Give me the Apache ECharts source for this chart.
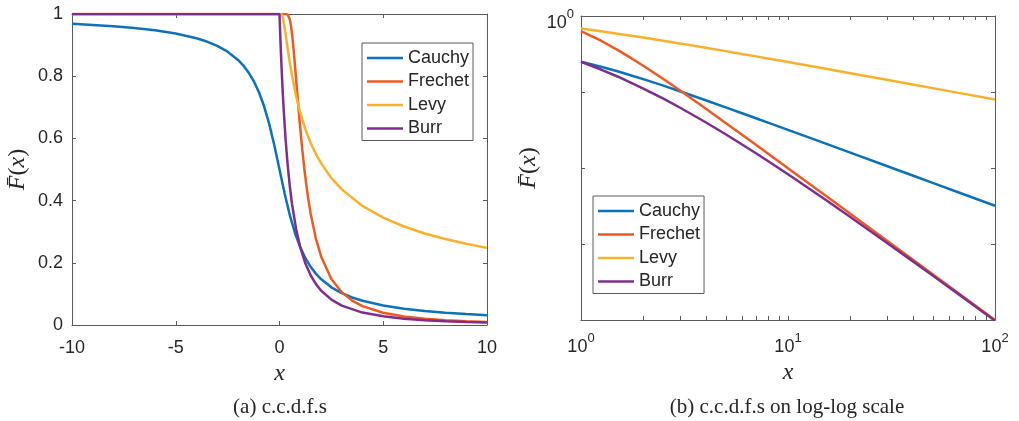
<!DOCTYPE html>
<html>
<head>
<meta charset="utf-8">
<script src="https://cdn.jsdelivr.net/npm/echarts@6/dist/echarts.min.js"></script>
<style>
html,body{margin:0;padding:0;background:#fff;}
#c{width:1019px;height:421px;}
</style>
</head>
<body>
<div id="c"></div>
<script>
// ---------- data: (a) linear scale ----------
const seriesNames = ['Cauchy', 'Frechet', 'Levy', 'Burr'];
const cauchyX = [-10,-9,-8,-7,-6,-5,-4,-3.5,-3,-2.5,-2,-1.75,-1.5,-1.25,-1,-0.75,-0.5,-0.25,0,0.25,0.5,0.75,1,1.25,1.5,1.75,2,2.5,3,3.5,4,5,6,7,8,9,10];
const cauchyY = [0.9683,0.9648,0.9604,0.9548,0.9474,0.9372,0.9220,0.9114,0.8976,0.8789,0.8524,0.8348,0.8128,0.7852,0.75,0.7048,0.6476,0.5780,0.5,0.4220,0.3524,0.2952,0.25,0.2148,0.1872,0.1652,0.1476,0.1211,0.1024,0.0886,0.0780,0.0628,0.0526,0.0452,0.0396,0.0352,0.0317];
const frechetX = [-10,0,0.3,0.35,0.4,0.45,0.5,0.55,0.6,0.65,0.7,0.75,0.8,0.85,0.9,0.95,1,1.1,1.2,1.3,1.4,1.5,1.75,2,2.5,3,3.5,4,5,6,7,8,9,10];
const frechetY = [1,1,1,0.9997,0.9981,0.9928,0.9817,0.9633,0.9378,0.9062,0.8701,0.8310,0.7904,0.7494,0.7090,0.6698,0.6321,0.5624,0.5006,0.4466,0.3996,0.3588,0.2786,0.2212,0.1479,0.1052,0.0784,0.0606,0.0392,0.0274,0.0202,0.0155,0.0123,0.00995];
const levyX = [-10,0,0.05,0.1,0.15,0.2,0.3,0.4,0.5,0.6,0.8,1,1.25,1.5,1.75,2,2.5,3,4,5,6,7,8,9,10];
const levyY = [1,1,1,0.9984,0.9901,0.9745,0.9320,0.8859,0.8427,0.8031,0.7363,0.6827,0.6287,0.5855,0.5500,0.5205,0.4729,0.4361,0.3829,0.3451,0.3168,0.2944,0.2763,0.2610,0.2480];
const burrX = [-10,0,0.02,0.05,0.1,0.15,0.2,0.3,0.4,0.5,0.6,0.8,1,1.25,1.5,1.75,2,2.5,3,4,5,6,7,8,9,10];
const burrY = [1,1,0.9612,0.9070,0.8264,0.7561,0.6944,0.5917,0.5102,0.4444,0.3906,0.3086,0.25,0.1975,0.16,0.1322,0.1111,0.0816,0.0625,0.04,0.0278,0.0204,0.0156,0.0123,0.0100,0.0083];

// ---------- data: (b) log-log scale ----------
const logX = [1,1.25,1.5,1.75,2,2.5,3,4,5,6,7,8,10,15,20,30,40,50,70,100];
const cauchyLog = [0.25,0.2148,0.1872,0.1652,0.1476,0.1211,0.1024,0.0780,0.0628,0.0526,0.0452,0.0396,0.0317,0.0212,0.0159,0.01061,0.00796,0.006365,0.004547,0.003183];
const frechetLog = [0.6321,0.4727,0.3588,0.2786,0.2212,0.1479,0.1052,0.0606,0.0392,0.0274,0.0202,0.0155,0.00995,0.004435,0.002497,0.0011105,0.000625,0.0004,0.000204,0.0001];
const levyLog = [0.6827,0.6287,0.5855,0.5500,0.5205,0.4729,0.4361,0.3829,0.3451,0.3168,0.2944,0.2763,0.2480,0.2037,0.1769,0.14487,0.12563,0.11246,0.09514,0.07966];
const burrLog = [0.25,0.1975,0.16,0.1322,0.1111,0.0816,0.0625,0.04,0.0278,0.0204,0.015625,0.01235,0.008264,0.003906,0.002268,0.0010406,0.000595,0.0003845,0.0001984,0.000098];
const logMinorTicks = [2,3,4,5,6,7,8,9,20,30,40,50,60,70,80,90];

// ---------- tick labels / texts ----------
const captionA = '(a) c.c.d.f.s';
const captionB = '(b) c.c.d.f.s on log-log scale';

const colors = ['#0B72BD', '#EE5A21', '#F7B12A', '#7E2F8E'];
const axisColor = '#5a5a5a';
const textColor = '#262626';
const sans = '"Liberation Sans", Arial, Helvetica, sans-serif';
const serif = '"Liberation Serif", "Times New Roman", serif';

function zip(xs, ys) { return xs.map((x, i) => [x, ys[i]]); }

const chart = echarts.init(document.getElementById('c'), null, {renderer: 'canvas'});

const tickBase = {show: true, inside: true, length: 4, lineStyle: {color: axisColor, width: 1}};
const lineBase = {show: true, onZero: false, lineStyle: {color: axisColor, width: 1}};
const yName = '{i|F\u0304}{n|(}{i|x}{n|)}';
const nameStyle = {
  fontFamily: serif, fontSize: 24, fontStyle: 'italic', color: textColor,
  rich: {
    i: {fontFamily: serif, fontSize: 24, fontStyle: 'italic', color: textColor},
    n: {fontFamily: serif, fontSize: 24, fontStyle: 'normal', color: textColor}
  }
};
const supRich = {
  b: {fontFamily: sans, fontSize: 18, color: textColor, verticalAlign: 'bottom'},
  s: {fontFamily: sans, fontSize: 13, color: textColor, verticalAlign: 'bottom', padding: [0, 0, 11, 0]}
};
function powLabel(v) {
  return '{b|10}{s|' + Math.round(Math.log10(v)) + '}';
}

const legendBase = {
  orient: 'vertical',
  data: seriesNames,
  icon: 'rect',
  itemWidth: 36, itemHeight: 2.5, itemGap: 5.5,
  padding: [6, 4, 3, 5],
  borderColor: axisColor, borderWidth: 1, backgroundColor: '#fff',
  textStyle: {fontFamily: sans, fontSize: 18, color: textColor},
  inactiveColor: '#ccc'
};

const linSets = [[cauchyX, cauchyY], [frechetX, frechetY], [levyX, levyY], [burrX, burrY]];
const logSets = [cauchyLog, frechetLog, levyLog, burrLog];

const series = [];
seriesNames.forEach((n, i) => {
  series.push({
    name: n, type: 'line', xAxisIndex: 0, yAxisIndex: 0,
    data: zip(linSets[i][0], linSets[i][1]),
    symbol: 'none', showSymbol: false, clip: true,
    lineStyle: {color: colors[i], width: 2.5}, itemStyle: {color: colors[i]},
    animation: false
  });
});
seriesNames.forEach((n, i) => {
  series.push({
    name: n, type: 'line', xAxisIndex: 2, yAxisIndex: 2,
    data: zip(logX, logSets[i]),
    symbol: 'none', showSymbol: false, clip: true,
    lineStyle: {color: colors[i], width: 2.5}, itemStyle: {color: colors[i]},
    animation: false
  });
});

const option = {
  backgroundColor: '#fff',
  animation: false,
  grid: [
    {left: 72, top: 14, width: 415, height: 311, containLabel: false},
    {left: 581, top: 16, width: 414, height: 304, containLabel: false}
  ],
  legend: [
    Object.assign({}, legendBase, {left: 362, top: 43}),
    Object.assign({}, legendBase, {left: 593, top: 196})
  ],
  xAxis: [
    {gridIndex: 0, type: 'value', position: 'bottom', min: -10, max: 10, interval: 5,
     axisLine: lineBase, axisTick: tickBase, splitLine: {show: false},
     axisLabel: {fontFamily: sans, fontSize: 18, color: textColor, margin: 14},
     name: 'x', nameLocation: 'middle', nameGap: 35, nameTextStyle: nameStyle},
    {gridIndex: 0, type: 'value', position: 'top', min: -10, max: 10, interval: 5,
     axisLine: lineBase, axisTick: tickBase, splitLine: {show: false}, axisLabel: {show: false}},
    {gridIndex: 1, type: 'log', logBase: 10, position: 'bottom', min: 1, max: 100,
     axisLine: lineBase, axisTick: tickBase, splitLine: {show: false}, minorTick: {show: false},
     axisLabel: {formatter: powLabel, rich: supRich, margin: 12},
     name: 'x', nameLocation: 'middle', nameGap: 38, nameTextStyle: nameStyle},
    {gridIndex: 1, type: 'log', logBase: 10, position: 'top', min: 1, max: 100,
     axisLine: lineBase, axisTick: tickBase, splitLine: {show: false}, axisLabel: {show: false}}
  ],
  yAxis: [
    {gridIndex: 0, type: 'value', position: 'left', min: 0, max: 1, interval: 0.2,
     axisLine: lineBase, axisTick: tickBase, splitLine: {show: false},
     axisLabel: {fontFamily: sans, fontSize: 18, color: textColor, margin: 9},
     name: yName, nameLocation: 'middle', nameGap: 42, nameTextStyle: nameStyle},
    {gridIndex: 0, type: 'value', position: 'right', min: 0, max: 1, interval: 0.2,
     axisLine: lineBase, axisTick: tickBase, splitLine: {show: false}, axisLabel: {show: false}},
    {gridIndex: 1, type: 'log', logBase: 10, position: 'left', min: 0.0001, max: 1,
     axisLine: lineBase, axisTick: tickBase, splitLine: {show: false},
     axisLabel: {formatter: function (v) { return Math.abs(v - 1) < 1e-9 ? powLabel(v) : ''; },
                 rich: supRich, margin: 7, padding: [8, 0, 0, 0]},
     name: yName, nameLocation: 'middle', nameGap: 40, nameTextStyle: nameStyle},
    {gridIndex: 1, type: 'log', logBase: 10, position: 'right', min: 0.0001, max: 1,
     axisLine: lineBase, axisTick: tickBase, splitLine: {show: false}, axisLabel: {show: false}}
  ],
  series: series
};
chart.setOption(option);

// minor ticks of the log x axis (positions through the chart's own scale)
const yBottom = chart.convertToPixel({yAxisIndex: 2}, 0.0001);
const yTop = chart.convertToPixel({yAxisIndex: 2}, 1);
const elems = [];
logMinorTicks.forEach(v => {
  const px = Math.round(chart.convertToPixel({xAxisIndex: 2}, v)) + 0.5;
  elems.push({type: 'line', silent: true, z: 10,
    shape: {x1: px, y1: yBottom, x2: px, y2: yBottom - 4}, style: {stroke: axisColor, lineWidth: 1}});
  elems.push({type: 'line', silent: true, z: 10,
    shape: {x1: px, y1: yTop, x2: px, y2: yTop + 4}, style: {stroke: axisColor, lineWidth: 1}});
});
elems.push({type: 'text', x: 280, y: 407, silent: true,
  style: {text: captionA, font: '21px ' + serif, fill: textColor, textAlign: 'center', textVerticalAlign: 'middle', verticalAlign: 'middle'}});
elems.push({type: 'text', x: 787, y: 407, silent: true,
  style: {text: captionB, font: '21px ' + serif, fill: textColor, textAlign: 'center', textVerticalAlign: 'middle', verticalAlign: 'middle'}});
chart.setOption({graphic: {elements: elems}});
</script>
</body>
</html>
